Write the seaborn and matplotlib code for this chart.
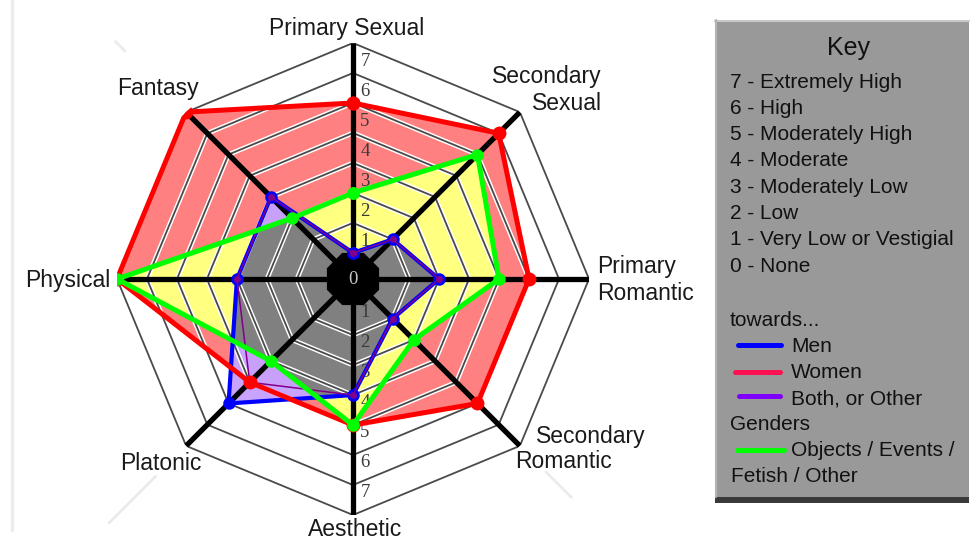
import numpy as np
import pandas as pd
import matplotlib
matplotlib.use("Agg")
import matplotlib.pyplot as plt
import matplotlib.patheffects as pe
from matplotlib.transforms import ScaledTranslation
from matplotlib.patches import Rectangle
from matplotlib.lines import Line2D
import seaborn as sns

# ---------------------------------------------------------------- data
categories = ["Primary Sexual", "Secondary Sexual", "Primary Romantic",
              "Secondary Romantic", "Aesthetic", "Platonic", "Physical", "Fantasy"]
men = [0, 1, 2, 1, 3, 5, 3, 3]
women = [5, 6, 5, 5, 4, 4, 7, 7]
both_other = [0, 1, 2, 1, 3, 4, 3, 3]
objects_other = [2, 5, 4, 2, 4, 3, 7, 2]
levels = [1, 2, 3, 4, 5, 6, 7]
key_lines = ["7 - Extremely High", "6 - High", "5 - Moderately High",
             "4 - Moderate", "3 - Moderately Low", "2 - Low",
             "1 - Very Low or Vestigial", "0 - None"]
legend_labels = ["Men", "Women", "Both, or Other", "Objects / Events /"]

# ---------------------------------------------------------------- style
sns.set_theme(style="white")
plt.rcParams["font.family"] = ["Liberation Sans", "DejaVu Sans"]

W, H = 971, 543
fig = plt.figure(figsize=(W / 100, H / 100), dpi=100)
fig.patch.set_facecolor("white")


def fx(x):
    return x / W


def fy(y):
    return 1 - y / H


ZERO = 0.87          # radius of the "0" hub, in level units
RMAX = 7 + ZERO

cx, cy, rad = 353, 279, 236
ax = fig.add_axes([fx(cx - rad), fy(cy + rad), 2 * rad / W, 2 * rad / H],
                  projection="polar")
ax.set_theta_zero_location("N")
ax.set_theta_direction(-1)
ax.set_ylim(0, RMAX)
ax.set_axis_off()

n = len(categories)
theta = np.arange(n) * 2 * np.pi / n
theta_c = np.append(theta, theta[0] + 2 * np.pi)


def closed(vals):
    v = np.asarray(vals, dtype=float) + ZERO
    return np.append(v, v[0])


# ---------------------------------------------------------------- fills
ax.fill(theta_c, closed(women), color="#ff8080", lw=0, zorder=1)
ax.fill(theta_c, closed(objects_other), color="#ffff80", lw=0, zorder=2)
men_patch = ax.fill(theta_c, closed(men), color="#c8a4ff", lw=0, zorder=3)[0]
ax.fill(theta_c, closed(both_other), color="#c8a0fa", lw=0, zorder=3)
core = ax.fill(theta_c, closed(objects_other), color="#808080", lw=0, zorder=4)[0]
core.set_clip_path(men_patch)

# ---------------------------------------------------------------- grid
halo = [pe.Stroke(linewidth=3.4, foreground="white"), pe.Normal()]
for k in levels:
    ax.plot(theta_c, np.full(n + 1, k + ZERO), color="#4a4a4a", lw=1.3,
            zorder=5, path_effects=halo, solid_joinstyle="miter")
for t in theta:
    ax.plot([t, t], [0, RMAX], color="black", lw=3.8, zorder=6,
            solid_capstyle="butt")

# faint extensions of three spokes beyond the web
for t, r0, r1 in [(theta[7], 10.75, 11.2), (theta[5], 9.3, 11.5), (theta[3], 9.1, 10.3)]:
    ax.plot([t, t], [r0, r1], color="#ebebeb", lw=2.0, zorder=0, clip_on=False)

# hub
hub_t = np.append(theta + np.pi / n, theta[0] + np.pi / n + 2 * np.pi)
ax.fill(hub_t, np.full(n + 1, ZERO / np.cos(np.pi / n)), color="black", lw=0, zorder=7)
ax.text(0, 0, "0", color="#c8c8c8", fontsize=13.5, family="Liberation Serif",
        ha="center", va="center", zorder=8)

# level numbers along the vertical axis
shift = ax.transData + ScaledTranslation(0.12, 0, fig.dpi_scale_trans)
for k in levels:
    ax.text(0, k - 0.62 + ZERO, str(k), transform=shift, color="#3a3a3a",
            fontsize=13.5, family="Liberation Serif", ha="center", va="center", zorder=8)
    ax.text(np.pi, k - 0.75 + ZERO, str(k), transform=shift, color="#3a3a3a",
            fontsize=13.5, family="Liberation Serif", ha="center", va="center", zorder=8)

# ---------------------------------------------------------------- series
def series_frame(vals):
    return pd.DataFrame({"theta": theta_c, "r": closed(vals)})


sns.lineplot(data=series_frame(men), x="theta", y="r", sort=False, estimator=None,
             color="#0000ff", lw=3.0, marker="o", markersize=9, markeredgewidth=0,
             ax=ax, zorder=9)
sns.lineplot(data=series_frame(both_other), x="theta", y="r", sort=False, estimator=None,
             color="#80008a", lw=1.1, marker="o", markersize=5, markeredgewidth=0,
             ax=ax, zorder=10)
sns.lineplot(data=series_frame(women), x="theta", y="r", sort=False, estimator=None,
             color="#ff0000", lw=3.6, marker="o", markersize=10, markeredgewidth=0,
             ax=ax, zorder=11)
sns.lineplot(data=series_frame(objects_other), x="theta", y="r", sort=False, estimator=None,
             color="#00ff00", lw=3.6, marker="o", markersize=9, markeredgewidth=0,
             ax=ax, zorder=12)
ax.set_ylim(0, RMAX)
ax.set_axis_off()

# ---------------------------------------------------------------- category labels
lab = dict(fontsize=16.5, color="#1a1a1a")
fig.text(fx(347), fy(29), "Primary Sexual", ha="center", va="center", **lab)
fig.text(fx(602), fy(90), "Secondary\nSexual", ha="right", va="center",
         multialignment="right", **lab)
fig.text(fx(597), fy(280), "Primary\nRomantic", ha="left", va="center",
         multialignment="left", **lab)
fig.text(fx(591), fy(437), "Secondary", ha="center", va="center", **lab)
fig.text(fx(563), fy(462), "Romantic", ha="center", va="center", **lab)
fig.text(fx(355), fy(530), "Aesthetic", ha="center", va="center", **lab)
fig.text(fx(161), fy(463), "Platonic", ha="center", va="center", **lab)
fig.text(fx(110), fy(280), "Physical", ha="right", va="center", **lab)
fig.text(fx(158), fy(88), "Fantasy", ha="center", va="center", **lab)

# faint rule on the left edge
fig.add_artist(Line2D([fx(12), fx(12)], [fy(0), fy(530)], color="#ececec", lw=2.5))

# ---------------------------------------------------------------- key panel
x0, x1, y0, y1 = 715, 969, 20, 503
fig.add_artist(Rectangle((fx(x0), fy(y1)), fx(x1 - x0), (y1 - y0) / H,
                         facecolor="#999999", edgecolor="none"))
fig.add_artist(Rectangle((fx(x0), fy(y1)), fx(x1 - x0), 6 / H,
                         facecolor="#3a3a3a", edgecolor="none"))
fig.add_artist(Line2D([fx(x0), fx(x1)], [fy(y0 + 1), fy(y0 + 1)], color="#c8c8c8", lw=1.5))
fig.add_artist(Line2D([fx(x0 + 1), fx(x0 + 1)], [fy(y0), fy(y1 - 6)], color="#b4b4b4", lw=1.5))

fig.text(fx(848), fy(48), "Key", ha="center", va="center", fontsize=18, color="#111111")
kt = dict(fontsize=15, color="#111111", ha="left", va="center")
for i, line in enumerate(key_lines):
    fig.text(fx(730), fy(82 + i * 26.3), line, **kt)

fig.text(fx(730), fy(320), "towards...", **kt)
swatches = [("#0000ff", 738, 781, 345), ("#ff1050", 735, 780, 372),
            ("#8000ff", 739, 780, 396), ("#00ff00", 737, 784, 450)]
rows = [347, 373, 399, 451]
for (col, xa, xb, ys), lbl, yr in zip(swatches, legend_labels, rows):
    fig.add_artist(Line2D([fx(xa), fx(xb)], [fy(ys), fy(ys)], color=col, lw=3.6))
    fig.text(fx(791), fy(yr), lbl, **kt)
fig.text(fx(730), fy(424), "Genders", **kt)
fig.text(fx(731), fy(476), "Fetish / Other", **kt)

fig.savefig("out.png", dpi=100)
